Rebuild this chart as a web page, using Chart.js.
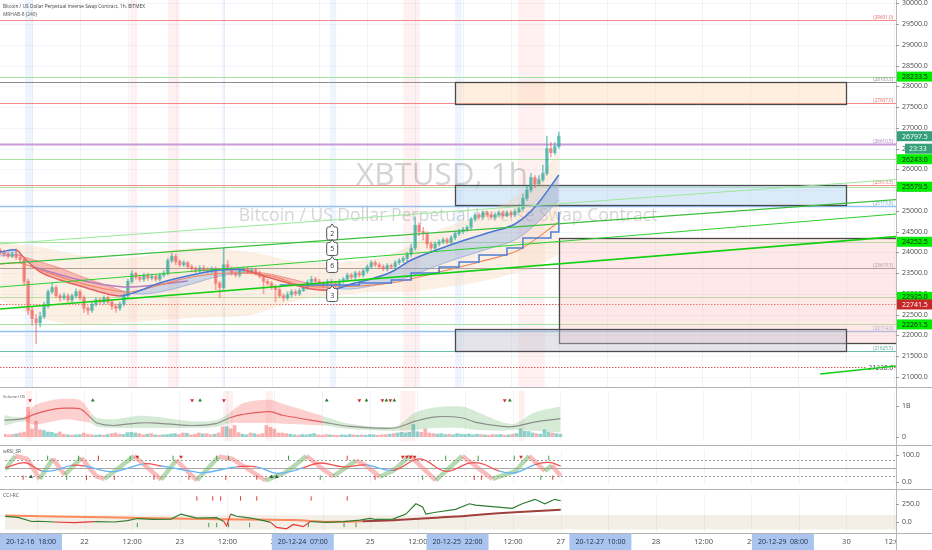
<!DOCTYPE html>
<html lang="en">
<head>
<meta charset="UTF-8">
<title>XBTUSD 1h</title>
<script src="https://cdn.jsdelivr.net/npm/chart.js@4"></script>
<style>
  html, body { margin: 0; padding: 0; background: #fff; }
  #wrap { position: relative; width: 932px; height: 550px; overflow: hidden; background: #fff; }
  #wrap canvas { position: absolute; left: 0; }
</style>
</head>
<body>
<div id="wrap">
  <canvas id="main" width="932" height="387" style="top:0px"></canvas>
  <canvas id="vol" width="932" height="58" style="top:387px"></canvas>
  <canvas id="rsi" width="932" height="44" style="top:445px"></canvas>
  <canvas id="cci" width="932" height="61" style="top:489px"></canvas>
</div>
<script>
// hours counted from 2020-12-22 00:00
const X_MIN = -20.05, X_MAX = 204.5;
const firstCandleHour = -20;
const firstOpen = 24050;

// hourly candles
const closes = [23990,23950,23900,23940,23880,23830,23300,22600,22400,22300,
  22450,22700,23050,23150,22950,22900,22950,22850,22950,23050,
  22900,22650,22600,22750,22850,22800,22900,22800,22700,22650,
  22750,22950,23300,23480,23400,23350,23450,23380,23420,23350,
  23450,23500,23800,23900,23780,23700,23750,23650,23600,23550,
  23620,23580,23550,23600,23250,23150,23700,23600,23500,23450,
  23550,23600,23520,23580,23500,23420,23300,23250,23180,23100,
  22950,22900,22980,23050,23000,23080,23150,23280,23350,23300,
  23250,23200,23300,23250,23200,23300,23350,23450,23400,23500,
  23450,23550,23650,23750,23700,23650,23600,23680,23650,23750,
  23800,23850,23950,24100,24650,24500,24450,24200,24100,24200,
  24250,24300,24250,24350,24450,24500,24550,24600,24800,24900,
  24850,24950,24900,24850,24900,24950,24880,24950,24900,24980,
  25050,25300,25500,25800,25650,25750,25900,26500,26400,26550,
  26800];
const highs = [24100,24050,23990,24000,24080,23950,23870,23350,22700,22500,
  22550,22800,23100,23250,23200,23000,23020,23000,23000,23120,
  23100,22950,22700,22800,22900,22900,22950,22950,22850,22750,
  22800,23000,23350,23550,23520,23450,23500,23500,23480,23450,
  23500,23560,23850,23980,23950,23820,23800,23780,23700,23650,
  23680,23680,23630,23650,23650,23300,24100,23800,23650,23550,
  23600,23650,23650,23620,23620,23550,23450,23350,23300,23220,
  23150,23000,23050,23100,23100,23130,23200,23330,23420,23400,
  23350,23300,23350,23350,23300,23350,23400,23500,23500,23550,
  23550,23600,23700,23800,23800,23750,23700,23730,23720,23800,
  23850,23900,24000,24200,24850,24700,24600,24500,24250,24250,
  24300,24350,24350,24400,24500,24550,24600,24650,24850,24950,
  24950,25000,25000,24950,24950,25000,25000,25000,25000,25050,
  25150,25400,25600,25900,25850,25850,26100,26800,26650,26650,
  26900];
const lows = [23950,23900,23860,23870,23830,23750,23200,22500,22250,21800,
  22200,22400,22650,23000,22900,22820,22850,22800,22800,22900,
  22850,22550,22500,22550,22700,22750,22750,22750,22620,22550,
  22600,22700,22900,23250,23350,23300,23300,23320,23330,23300,
  23300,23400,23450,23750,23700,23650,23650,23600,23550,23500,
  23500,23520,23500,23500,23100,22900,23100,23550,23450,23400,
  23400,23500,23480,23480,23450,23380,23000,23200,23100,22800,
  22900,22820,22850,22920,22950,22950,23050,23100,23230,23250,
  23200,23150,23150,23200,23150,23150,23250,23300,23350,23350,
  23400,23400,23500,23600,23650,23600,23550,23550,23600,23600,
  23700,23750,23800,23900,24050,24400,24300,24100,24000,24050,
  24150,24200,24200,24200,24300,24400,24450,24500,24550,24750,
  24800,24800,24850,24800,24800,24850,24830,24850,24850,24850,
  24950,25000,25250,25450,25550,25600,25700,25850,26300,26350,
  26500];
// volume, billions
const volumes = [0.08,0.06,0.07,0.09,0.12,0.15,0.95,0.25,0.50,0.22,
  0.20,0.15,0.14,0.10,0.15,0.08,0.06,0.05,0.06,0.07,
  0.12,0.08,0.06,0.05,0.06,0.05,0.07,0.10,0.12,0.08,
  0.07,0.13,0.14,0.12,0.10,0.06,0.08,0.10,0.06,0.05,
  0.06,0.07,0.09,0.10,0.07,0.12,0.11,0.06,0.08,0.12,
  0.09,0.10,0.06,0.08,0.12,0.32,0.32,0.25,0.36,0.13,
  0.08,0.06,0.12,0.10,0.07,0.10,0.36,0.30,0.25,0.12,
  0.12,0.10,0.08,0.06,0.05,0.07,0.06,0.08,0.10,0.06,
  0.05,0.07,0.06,0.05,0.04,0.06,0.05,0.07,0.06,0.05,
  0.06,0.05,0.07,0.06,0.05,0.06,0.07,0.08,0.10,0.12,
  0.14,0.12,0.14,0.39,0.16,0.14,0.25,0.12,0.10,0.08,
  0.10,0.07,0.08,0.06,0.10,0.08,0.07,0.09,0.06,0.08,
  0.07,0.06,0.05,0.07,0.06,0.07,0.05,0.06,0.08,0.10,
  0.25,0.18,0.17,0.12,0.10,0.08,0.22,0.15,0.12,0.10,
  0.08];

// overlay indicators on price
const bandHours = [-20,-10,0,12.5,27.6,42.6,55,65,75,83,90,100,110,116.5,120];
const bandUpper = [24224,24127,23935,23862,24103,24007,23766,23766,23862,24175,24537,24899,25380,25983,26465];
const bandLower = [22850,22416,22248,22320,22416,22489,22850,22970,23043,23043,23139,23284,23525,23766,23935];

const maHours = [-20,-16,-14,-10,-5,0,5,10,14,20,28,35,41,46,53,58,63,68,73,78,83,88,95,103,109,114,120];
const emaFast = [24007,24055,23862,23525,23332,23187,23043,22946,23043,23260,23452,23573,23573,23428,23236,23115,23091,23236,23356,23525,23814,24007,24248,24489,24682,25091,25863];
const emaSlow = [23910,23935,23886,23766,23621,23428,23260,23091,22995,23043,23236,23428,23500,23500,23356,23236,23139,23115,23187,23284,23428,23621,23862,24103,24296,24658,25260];

const purpleHours = [-12.5,0,12,27];
const purpleLine = [23670,23332,23163,23308];
const orangeHours = [-20,-15,-10,0,12,20,28,38,48,55,63,78,90,100,110,120];
const orangeLine = [23718,23742,23573,23260,23043,23212,23404,23500,23428,23212,23163,23260,23525,23766,24055,24730];
const trailHours = [50,63,70,78,83,90,95,100,107,111,118,120];
const trailLine = [23212,23212,23260,23332,23500,23645,23766,23935,24103,24344,24489,24971];

// drawn trend lines
const trendStartHour = [-20.05,-20.05,-20.05,-20.05,185.5];
const trendEndHour = [204.5,204.5,204.5,204.5,204.5];
const trendStartPrice = [24200,23718,23163,22633,21067];
const trendEndPrice = [25754,25267,24923,24378,21259];

// horizontal levels
const levelPrices = [29601.0,28233.5,28105.5,27607.0,26610.5,26243.0,25613.5,25579.5,25115.8,24252.5,23619.5,22925.0,22741.5,22261.5,22114.0,21625.5,21238.0];
const levelKinds = ['red','lgreen','grey','red','purple','lgreen','red','lgreen','blue','lgreen','grey','lgreen','reddot','lgreen','blue','teal','pricedot'];
const levelNotes = ['(29601.0)','','(28105.5)','(27607.0)','(26610.5)','','(25613.5)','','(25115.8)','','(23619.5)','','','','(22114.0)','(21625.5)','21238.0'];

// rectangles
const boxStartHour = [94,94,120,94];
const boxEndHour = [192,192,215,192];
const boxTop = [28100,25620,24352,22150];
const boxBottom = [27560,25140,21814,21620];
const boxKinds = ['peach','blue','pink','grey'];

// price tags on the axis
const tagPrices = [28233.5,26797.5,26243.0,25579.5,24252.5,22925.0,22741.5,22261.5];
const tagKinds = ['lime','last','lime','lime','lime','lime','red','lime'];
const countdown = '23:33';

const calloutHour = 63.2;
const calloutLabels = ['2','5','6','3'];
const calloutPrices = [24453,24079,23670,22970];

const mainTicks = [21000,21500,22000,22500,23000,23500,24000,24500,25000,25500,26000,26500,27000,27500,28000,28500,29000,29500,30000];
const xTickHours = [-12,0,12,24,36,48,60,72,84,96,108,120,132,144,156,168,180,192,204];
const xTickLabels = ['12:00','22','12:00','23','12:00','24','12:00','25','12:00','26','12:00','27','12:00','28','12:00','29','12:00','30','12:00'];
const dateBoxHours = [-126,55,94,130,176];
const dateBoxLabels = ['20-12-16  18:00','20-12-24  07:00','20-12-25  22:00','20-12-27  10:00','20-12-29  08:00'];

const mainPinkCols = [[12.5,14.3],[22,25],[81,85.2],[109.8,116.5]];
const mainBlueCols = [[-13.8,-11.8],[35.6,36.3],[62.7,64.2],[94,95.7]];
const volPinkCols = [[-14.5,-13],[35.1,37.6],[45.9,47.6],[79.7,83.5],[109.5,111]];

// volume average with envelope
const volMaHours = [-20,-15,-12.5,-7.5,-4.3,-0.8,1.8,3.3,7.5,13.3,18.3,26.8,33.3,36.8,40.1,46.9,50.1,60.2,66.9,78.4,83.5,88.5,95.2,98.5,105.3,108.5,113.5,120];
const volMa = [0.53,0.58,0.72,0.89,0.92,0.89,0.61,0.44,0.36,0.44,0.44,0.36,0.42,0.61,0.72,0.81,0.69,0.47,0.33,0.28,0.50,0.64,0.61,0.47,0.33,0.33,0.47,0.58];
const volUpper = [0.69,0.64,1.00,1.19,1.22,1.17,0.78,0.61,0.56,0.67,0.64,0.50,0.53,0.78,1.08,1.19,1.06,0.67,0.42,0.33,0.78,0.94,0.97,0.83,0.47,0.42,0.78,0.97];
const volLower = [0.36,0.50,0.39,0.50,0.56,0.50,0.44,0.33,0.28,0.28,0.28,0.28,0.31,0.44,0.44,0.44,0.42,0.36,0.25,0.19,0.22,0.28,0.28,0.22,0.19,0.22,0.19,0.14];
const volTrend = [0,1,1,1,1,1,0,0,0,0,0,0,0,1,1,1,1,0,0,0,0,0,0,0,0,0,0,0];
const volDownHours = [-13.5,27.3,35.3,69.4,75.2,77.2,106.0];
const volUpHours = [2.3,29.3,61.2,71.2,76.2,78.2,107.3];

// wRSI_SR
const rsiHours = [-20,-15,-10.8,-7.5,-3.3,0,5,8,15,19.3,26.8,30.1,38.3,43.4,48.4,52.6,55.1,59.4,65.2,70.9,77.7,84.5,91,97,100.3,104.5,108.5,113.5,117,120];
const rsiValues = [51,70,40,42,60,58,40,38,66,58,39,33,55,55,31,40,52,69,55,62,42,84,38,69,66,39,33,63,71,58];
const stochHours = [-20,-17.5,-14.5,-11.3,-8,-5,-0.8,3,5,12.5,19.3,23.1,28.3,33.8,37.1,45.6,50.1,52.6,55.9,60.2,62.7,68.4,70.9,74.4,77.7,82,88.5,95.2,102.8,108.5,112,116,117.8,120];
const stochValues = [45,95,85,10,85,25,88,20,10,95,8,80,5,92,85,5,30,55,95,45,20,78,60,18,40,95,5,95,10,38,95,40,60,20];
const rsiDownHours = [13.3,24.3,80.2,81.2,82.2,83.2,110];
const rsiUpHours = [-13.5,47.1,48.4];
const rsiTopGreen = [-9.3,-1.5,11.5,22.3,33.3,36.3,51.4,91.0,99.2,108.3,117.0];
const rsiTopRed = [3.5,66.2];
const rsiLowRed = [-15.5,0.5,7.5,17.5,26.3,35.6,43.4,73.2,98.2,100.0,118.0];
const rsiLowGreen = [-4.5,59.4,85.2,115.0];

// CCI-RC
const cciHours = [-20,-16.8,-13.3,-11.8,-7.5,-2.5,2.5,7.5,10.8,13.3,17.5,21.8,24.3,28.3,33.3,35.1,35.8,36.8,38.3,41.9,45.1,46.9,48.4,50.9,52.6,55.1,56.9,60.9,65.2,69.4,71.9,73.4,77.7,81,83.5,85.2,86,88.5,93.5,97,98.5,103.5,107.8,110.3,113.5,116,118.5,120];
const cciValues = [82,70,12,15,5,-5,10,5,25,53,40,45,115,60,65,12,-50,115,85,60,25,0,-70,-90,-30,-60,12,0,10,32,55,40,45,115,258,215,115,140,180,258,240,215,195,258,320,258,320,300];
const cciSlowHours = [-20,5,30,52.6,61,70,78,85,93.5,100,108.5,120];
const cciSlowValues = [95,70,45,32,8,15,30,55,80,110,140,175];
const cciTopRed = [28.3,32.3,34.3,39.3,43.4,57.1,66.2];
const cciLowGreen = [13.3,31.3,33.3,36.3,41.6,56.4,65.4,68.4];

// ---------------------------------------------------------------
const FONT = '"Open Sans", "DejaVu Sans", sans-serif';
const pts = (hs, vs) => hs.map((h, k) => ({ x: h, y: vs[k] }));
const candleHours = closes.map((c, i) => firstCandleHour + i);
const opens = closes.map((c, i) => i === 0 ? firstOpen : closes[i - 1]);
const isUp = closes.map((c, i) => c >= opens[i]);
const UP = 'rgba(38,166,154,0.55)', DN = 'rgba(239,83,80,0.5)';

function hline(ctx, x0, x1, y) { ctx.beginPath(); ctx.moveTo(x0, y); ctx.lineTo(x1, y); ctx.stroke(); }
function vline(ctx, x, y0, y1) { ctx.beginPath(); ctx.moveTo(x, y0); ctx.lineTo(x, y1); ctx.stroke(); }
function fitFont(ctx, text, width, extra) {
  ctx.font = (extra || '') + ' 100px ' + FONT;
  const s = 100 * width / ctx.measureText(text).width;
  ctx.font = (extra || '') + ' ' + s.toFixed(2) + 'px ' + FONT;
}
function shadeCols(ctx, x, a, cols, color) {
  ctx.fillStyle = color;
  cols.forEach(([h0, h1]) => {
    const p0 = x.getPixelForValue(h0), p1 = x.getPixelForValue(h1);
    ctx.fillRect(p0, a.top, p1 - p0, a.bottom - a.top);
  });
}
function gridX(ctx, x, a) {
  ctx.strokeStyle = 'rgba(40,80,160,0.07)'; ctx.lineWidth = 1;
  xTickHours.forEach(h => vline(ctx, Math.round(x.getPixelForValue(h)) + 0.5, a.top, a.bottom));
}
function axisBase(chart) {
  const { ctx, chartArea: a } = chart;
  ctx.fillStyle = '#fff';
  ctx.fillRect(a.right, 0, chart.width - a.right, chart.height);
  ctx.strokeStyle = '#b9b9b9'; ctx.lineWidth = 1;
  vline(ctx, a.right + 0.5, 0, chart.height);
}
function axisLabel(chart, value, text) {
  const { ctx, chartArea: a, scales: { y } } = chart;
  const yy = y.getPixelForValue(value);
  ctx.strokeStyle = '#9a9a9a';
  hline(ctx, a.right, a.right + 3, Math.round(yy) + 0.5);
  ctx.fillStyle = '#4a4a4a'; ctx.font = '7px ' + FONT;
  ctx.textAlign = 'left'; ctx.textBaseline = 'middle';
  ctx.fillText(text, a.right + 6, yy);
}
function paneTitle(ctx, text, w, y) {
  ctx.fillStyle = '#555'; fitFont(ctx, text, w);
  ctx.textAlign = 'left'; ctx.textBaseline = 'alphabetic';
  ctx.fillText(text, 3, y);
}

const levelStyle = {
  red:      { color: '#f08a8a', width: 1,   dash: [],      text: '#e06666' },
  lgreen:   { color: '#a6e3a0', width: 1,   dash: [],      text: '#7bbf75' },
  grey:     { color: '#8f8f8f', width: 1,   dash: [],      text: '#888' },
  purple:   { color: '#c99bd8', width: 2,   dash: [],      text: '#a673b8' },
  blue:     { color: '#92c1f2', width: 1.5, dash: [],      text: '#6b9fd8' },
  teal:     { color: '#6cbcae', width: 1.2, dash: [],      text: '#4c9c8e' },
  reddot:   { color: '#e35a5a', width: 1,   dash: [1.5, 1.5], text: '#e35a5a' },
  pricedot: { color: '#e35a5a', width: 1,   dash: [1.5, 1.5], text: '#444' }
};
const boxStyle = {
  peach: 'rgba(255,214,170,0.38)',
  blue:  'rgba(170,205,240,0.42)',
  pink:  'rgba(255,185,185,0.32)',
  grey:  'rgba(190,190,205,0.42)'
};
const tagStyle = {
  lime: { bg: '#00ee00', fg: '#1c1c1c' },
  last: { bg: '#35a07a', fg: '#ffffff' },
  red:  { bg: '#c62828', fg: '#ffffff' }
};

const mainDecor = {
  id: 'mainDecor',
  beforeDatasetsDraw(chart) {
    const { ctx, chartArea: a, scales: { x, y } } = chart;
    ctx.save();
    ctx.beginPath(); ctx.rect(a.left, a.top, a.right - a.left, a.bottom - a.top); ctx.clip();
    shadeCols(ctx, x, a, mainPinkCols, 'rgba(255,160,160,0.15)');
    shadeCols(ctx, x, a, mainBlueCols, 'rgba(150,190,255,0.16)');
    ctx.strokeStyle = 'rgba(40,80,160,0.06)'; ctx.lineWidth = 1;
    mainTicks.forEach(v => hline(ctx, a.left, a.right, Math.round(y.getPixelForValue(v)) + 0.5));
    gridX(ctx, x, a);

    // watermark
    const cx = (a.left + a.right) / 2;
    ctx.fillStyle = 'rgba(0,0,0,0.17)'; ctx.textAlign = 'center'; ctx.textBaseline = 'alphabetic';
    fitFont(ctx, 'XBTUSD, 1h', 172);
    ctx.fillText('XBTUSD, 1h', cx - 6, 185);
    fitFont(ctx, 'Bitcoin / US Dollar Perpetual Inverse Swap Contract', 419);
    ctx.fillText('Bitcoin / US Dollar Perpetual Inverse Swap Contract', cx, 221);

    // levels
    levelPrices.forEach((p, k) => {
      const st = levelStyle[levelKinds[k]];
      const yy = Math.round(y.getPixelForValue(p)) + 0.5;
      ctx.strokeStyle = st.color; ctx.lineWidth = st.width; ctx.setLineDash(st.dash);
      hline(ctx, a.left, a.right, yy);
      ctx.setLineDash([]);
      const note = levelNotes[k];
      if (!note) return;
      ctx.textAlign = 'right';
      if (levelKinds[k] === 'pricedot') {
        ctx.font = 'italic 7px ' + FONT;
        const w = ctx.measureText(note).width;
        ctx.fillStyle = '#fff'; ctx.fillRect(a.right - 4 - w, yy - 4, w + 2, 8);
        ctx.fillStyle = st.text; ctx.textBaseline = 'middle';
        ctx.fillText(note, a.right - 3, yy);
      } else {
        ctx.font = '4.6px ' + FONT; ctx.fillStyle = st.text; ctx.textBaseline = 'alphabetic';
        ctx.fillText(note, a.right - 3, yy - 1.5);
      }
    });

    // rectangles
    boxKinds.forEach((kind, k) => {
      const x0 = x.getPixelForValue(boxStartHour[k]), x1 = x.getPixelForValue(boxEndHour[k]);
      const y0 = y.getPixelForValue(boxTop[k]), y1 = y.getPixelForValue(boxBottom[k]);
      ctx.fillStyle = boxStyle[kind];
      ctx.fillRect(x0, y0, x1 - x0, y1 - y0);
      ctx.strokeStyle = '#4a4a4a'; ctx.lineWidth = 1.3;
      ctx.strokeRect(Math.round(x0) + 0.5, Math.round(y0) + 0.5, Math.round(x1 - x0), Math.round(y1 - y0));
    });
    ctx.restore();
  },
  afterDatasetsDraw(chart) {
    const { ctx, scales: { x, y } } = chart;
    ctx.save();
    const cx = x.getPixelForValue(calloutHour);
    calloutLabels.forEach((lab, k) => {
      const cy = y.getPixelForValue(calloutPrices[k]);
      const w = 11, h = 13, l = cx - w / 2, t = cy - h / 2;
      ctx.beginPath();
      ctx.moveTo(l + 2, t);
      ctx.lineTo(cx - 2, t); ctx.lineTo(cx, t - 3); ctx.lineTo(cx + 2, t);
      ctx.lineTo(l + w - 2, t); ctx.quadraticCurveTo(l + w, t, l + w, t + 2);
      ctx.lineTo(l + w, t + h - 2); ctx.quadraticCurveTo(l + w, t + h, l + w - 2, t + h);
      ctx.lineTo(l + 2, t + h); ctx.quadraticCurveTo(l, t + h, l, t + h - 2);
      ctx.lineTo(l, t + 2); ctx.quadraticCurveTo(l, t, l + 2, t);
      ctx.closePath();
      ctx.fillStyle = '#fff'; ctx.fill();
      ctx.strokeStyle = '#555'; ctx.lineWidth = 1; ctx.stroke();
      ctx.fillStyle = '#333'; ctx.font = '7px ' + FONT;
      ctx.textAlign = 'center'; ctx.textBaseline = 'middle';
      ctx.fillText(lab, cx, cy + 0.5);
    });
    ctx.restore();
  },
  afterDraw(chart) {
    const { ctx, chartArea: a, scales: { y } } = chart;
    ctx.save();
    axisBase(chart);
    mainTicks.forEach(v => {
      const yy = y.getPixelForValue(v);
      if (yy > 2 && yy < chart.height - 3) axisLabel(chart, v, v.toFixed(1));
    });
    // tags
    ctx.font = '7px ' + FONT; ctx.textAlign = 'left'; ctx.textBaseline = 'middle';
    tagPrices.forEach((p, k) => {
      const st = tagStyle[tagKinds[k]];
      const yy = y.getPixelForValue(p);
      ctx.fillStyle = st.bg; ctx.fillRect(a.right + 1, yy - 5, chart.width - a.right - 1, 10);
      ctx.fillStyle = st.fg; ctx.fillText(p.toFixed(1), a.right + 6, yy + 0.5);
      if (tagKinds[k] === 'last') {
        const y2 = yy + 12.5;
        ctx.fillStyle = st.bg; ctx.fillRect(a.right + 9, y2 - 5, chart.width - a.right - 9, 10);
        ctx.fillStyle = st.fg; ctx.fillText(countdown, a.right + 13, y2 + 0.5);
      }
    });
    // legend text
    ctx.fillStyle = '#3a3a3a';
    fitFont(ctx, 'Bitcoin / US Dollar Perpetual Inverse Swap Contract, 1h, BITMEX', 142);
    ctx.textAlign = 'left'; ctx.textBaseline = 'alphabetic';
    ctx.fillText('Bitcoin / US Dollar Perpetual Inverse Swap Contract, 1h, BITMEX', 3, 8);
    ctx.fillStyle = '#555';
    fitFont(ctx, 'MRHAB-8 (240)', 34);
    ctx.fillText('MRHAB-8 (240)', 3, 15.5);
    ctx.restore();
  }
};

function paneDecor(opts) {
  return {
    id: 'pane_' + opts.name,
    beforeDatasetsDraw(chart) {
      const { ctx, chartArea: a, scales: { x, y } } = chart;
      ctx.save();
      ctx.beginPath(); ctx.rect(a.left, a.top, a.right - a.left, a.bottom - a.top); ctx.clip();
      if (opts.cols) shadeCols(ctx, x, a, opts.cols, 'rgba(255,160,160,0.16)');
      gridX(ctx, x, a);
      if (opts.band) {
        const y0 = y.getPixelForValue(opts.band[0]), y1 = y.getPixelForValue(opts.band[1]);
        ctx.fillStyle = 'rgba(214,200,172,0.30)';
        ctx.fillRect(a.left, y0, a.right - a.left, y1 - y0);
      }
      (opts.guides || []).forEach(([v, dashed]) => {
        ctx.strokeStyle = dashed ? '#9a9a9a' : '#a8a8a8'; ctx.lineWidth = 1;
        ctx.setLineDash(dashed ? [2, 2] : []);
        hline(ctx, a.left, a.right, Math.round(y.getPixelForValue(v)) + 0.5);
      });
      ctx.setLineDash([]);
      ctx.restore();
    },
    afterDraw(chart) {
      const { ctx, chartArea: a, scales: { x } } = chart;
      ctx.save();
      axisBase(chart);
      opts.ticks.forEach(([v, t]) => axisLabel(chart, v, t));
      paneTitle(ctx, opts.title, opts.titleW, opts.titleY);
      ctx.strokeStyle = '#b3b3b3'; ctx.lineWidth = 1;
      hline(ctx, 0, chart.width, 0.5);
      if (opts.timeAxis) {
        hline(ctx, 0, chart.width, a.bottom + 0.5);
        ctx.save();
        ctx.beginPath(); ctx.rect(0, a.bottom + 1, a.right, chart.height); ctx.clip();
        ctx.fillStyle = '#4a4a4a'; ctx.font = '7.5px ' + FONT;
        ctx.textAlign = 'center'; ctx.textBaseline = 'middle';
        xTickHours.forEach((h, k) => ctx.fillText(xTickLabels[k], x.getPixelForValue(h), a.bottom + 9));
        ctx.font = '7px ' + FONT;
        dateBoxHours.forEach((h, k) => {
          const left = Math.max(0, x.getPixelForValue(h) - 31);
          ctx.fillStyle = '#a8c4ef'; ctx.fillRect(left, a.bottom + 1, 62, chart.height - a.bottom - 1);
          ctx.fillStyle = '#1e2a44';
          ctx.fillText(dateBoxLabels[k], left + 31, a.bottom + 9);
        });
        ctx.restore();
      }
      ctx.restore();
    }
  };
}

function makeChart(id, yMin, yMax, bottomPad, datasets, plugin) {
  return new Chart(document.getElementById(id), {
    type: 'line',
    data: { datasets },
    options: {
      responsive: false, animation: false, events: [],
      layout: { padding: { left: 0, top: 0, right: 36, bottom: bottomPad } },
      plugins: { legend: { display: false }, tooltip: { enabled: false } },
      scales: {
        x: { type: 'linear', min: X_MIN, max: X_MAX, display: false, offset: false },
        y: { type: 'linear', min: yMin, max: yMax, display: false }
      }
    },
    plugins: [plugin]
  });
}

function markers(hours, value, style, color, rotation, radius) {
  return { type: 'line', data: hours.map(h => ({ x: h, y: value })), showLine: false, fill: false,
    pointStyle: style, rotation: rotation, pointRadius: radius,
    pointBackgroundColor: color, pointBorderColor: color, pointBorderWidth: style === 'line' ? 1 : 0, order: 1 };
}

// ---------- main price pane ----------
const mainSets = [
  { type: 'line', data: pts(bandHours, bandUpper), borderWidth: 0, pointRadius: 0, tension: 0.3,
    fill: '+1', backgroundColor: 'rgba(246,204,164,0.30)', order: 50 },
  { type: 'line', data: pts(bandHours, bandLower), borderWidth: 0, pointRadius: 0, tension: 0.3, fill: false, order: 49 },
  { type: 'line', data: pts(maHours, emaFast), borderWidth: 0, pointRadius: 0, tension: 0.35,
    fill: { target: '+1', above: 'rgba(100,150,225,0.30)', below: 'rgba(240,100,100,0.38)' }, order: 48 },
  { type: 'line', data: pts(maHours, emaSlow), borderWidth: 1, pointRadius: 0, tension: 0.35, fill: false,
    segment: { borderColor: c => emaFast[c.p1DataIndex] >= emaSlow[c.p1DataIndex] ? 'rgba(110,150,220,0.55)' : 'rgba(235,110,100,0.6)' }, order: 47 },
  { type: 'bar', data: candleHours.map((h, i) => ({ x: h, y: [lows[i], highs[i]] })),
    backgroundColor: isUp.map(u => u ? UP : DN), barThickness: 1, grouped: false, order: 31 },
  { type: 'bar', data: candleHours.map((h, i) => ({ x: h, y: [Math.min(opens[i], closes[i]), Math.max(opens[i], closes[i])] })),
    backgroundColor: isUp.map(u => u ? UP : DN), barThickness: 3, grouped: false, order: 30 },
  { type: 'line', data: pts(purpleHours, purpleLine), borderColor: '#b47fbe', borderWidth: 1.5, pointRadius: 0, tension: 0.35, fill: false, order: 22 },
  { type: 'line', data: pts(orangeHours, orangeLine), borderColor: '#f4845f', borderWidth: 1.1, pointRadius: 0, tension: 0.3, fill: false, order: 21 },
  { type: 'line', data: pts(trailHours, trailLine), borderColor: '#4f7fd6', borderWidth: 1.5, pointRadius: 0, stepped: true, fill: false, order: 20 },
  { type: 'line', data: pts(maHours, emaFast), borderWidth: 1.5, pointRadius: 0, tension: 0.35, fill: false,
    segment: { borderColor: c => emaFast[c.p1DataIndex] >= emaSlow[c.p1DataIndex] ? '#4a78d0' : '#e26262' }, order: 19 }
];
const trendColors = ['#9be89b', '#3cbf3c', '#2fcf2f', '#10d010', '#10d010'];
const trendWidths = [1, 1.2, 1.2, 1.6, 1.6];
trendStartHour.forEach((h, k) => {
  mainSets.push({ type: 'line', data: [{ x: h, y: trendStartPrice[k] }, { x: trendEndHour[k], y: trendEndPrice[k] }],
    borderColor: trendColors[k], borderWidth: trendWidths[k], pointRadius: 0, fill: false, order: 10 - k });
});
makeChart('main', 20753, 30080, 0, mainSets, mainDecor);

// ---------- volume pane ----------
const volSets = [
  { type: 'line', data: pts(volMaHours, volUpper), borderWidth: 0, pointRadius: 0, tension: 0.3, fill: '+1',
    backgroundColor: 'rgba(120,190,120,0.30)',
    segment: { backgroundColor: c => volTrend[c.p0DataIndex] ? 'rgba(250,120,120,0.35)' : 'rgba(120,190,120,0.30)' }, order: 40 },
  { type: 'line', data: pts(volMaHours, volLower), borderWidth: 0, pointRadius: 0, tension: 0.3, fill: false, order: 39 },
  { type: 'bar', data: candleHours.map((h, i) => ({ x: h, y: volumes[i] })),
    backgroundColor: isUp.map(u => u ? 'rgba(38,166,154,0.5)' : 'rgba(239,83,80,0.45)'), barThickness: 3, grouped: false, order: 30 },
  { type: 'line', data: pts(volMaHours, volMa), borderWidth: 1.2, pointRadius: 0, tension: 0.3, fill: false,
    segment: { borderColor: c => volTrend[c.p0DataIndex] ? '#e35d5d' : '#8d8d8d' }, order: 20 },
  markers(volDownHours, 1.17, 'triangle', '#d32f2f', 180, 2.2),
  markers(volUpHours, 1.17, 'triangle', '#2e7d32', 0, 2.2)
];
makeChart('vol', -0.139, 1.472, 0, volSets, paneDecor({
  name: 'vol', cols: volPinkCols, ticks: [[1, '1B'], [0, '0']], title: 'Volume (18)', titleW: 22, titleY: 11
}));

// ---------- wRSI pane ----------
const rsiSets = [
  { type: 'line', data: pts(stochHours, stochValues), borderWidth: 4.5, pointRadius: 0, fill: false, borderCapStyle: 'butt',
    segment: { borderColor: c => c.p1.parsed.y >= c.p0.parsed.y ? 'rgba(110,180,100,0.50)' : 'rgba(245,135,135,0.55)' }, order: 30 },
  { type: 'line', data: pts(rsiHours, rsiValues), borderWidth: 1.3, pointRadius: 0, tension: 0.4, fill: false,
    segment: { borderColor: c => (c.p0.parsed.y + c.p1.parsed.y) / 2 > 52 ? '#ef5350' : '#64b5f6' }, order: 20 },
  markers(rsiDownHours, 92, 'triangle', '#d32f2f', 180, 2.2),
  markers(rsiUpHours, 18, 'triangle', '#2f5f3a', 0, 2.2),
  markers(rsiTopGreen, 88, 'line', '#43a047', 90, 2.2),
  markers(rsiTopRed, 88, 'line', '#e53935', 90, 2.2),
  markers(rsiLowRed, 15, 'line', '#e53935', 90, 2.2),
  markers(rsiLowGreen, 15, 'line', '#43a047', 90, 2.2)
];
makeChart('rsi', -8.57, 117.1, 0, rsiSets, paneDecor({
  name: 'rsi', ticks: [[100, '100.0'], [0, '0.0']], guides: [[80, true], [20, true], [50, false]],
  title: 'wRSI_SR', titleW: 18, titleY: 8
}));

// ---------- CCI pane ----------
const cciSets = [
  { type: 'line', data: pts(cciSlowHours, cciSlowValues), borderWidth: 2, pointRadius: 0, tension: 0.35, fill: false,
    segment: { borderColor: c => c.p1.parsed.y > c.p0.parsed.y + 12 ? '#a0403c' : '#ff8a5c' }, order: 30 },
  { type: 'line', data: pts(cciHours, cciValues), borderWidth: 1.2, pointRadius: 0, fill: false,
    segment: { borderColor: c => (c.p0.parsed.y < 0 || c.p1.parsed.y < 0) ? '#e53935' : '#2e7d32' }, order: 20 },
  markers(cciTopRed, 332, 'line', '#e53935', 90, 2.2),
  markers(cciLowGreen, -37, 'line', '#43a047', 90, 2.2)
];
makeChart('cci', -148, 394, 17, cciSets, paneDecor({
  name: 'cci', ticks: [[250, '250.0'], [0, '0.0']], band: [100, -100],
  title: 'CCI-RC', titleW: 16, titleY: 8, timeAxis: true
}));
</script>
</body>
</html>
